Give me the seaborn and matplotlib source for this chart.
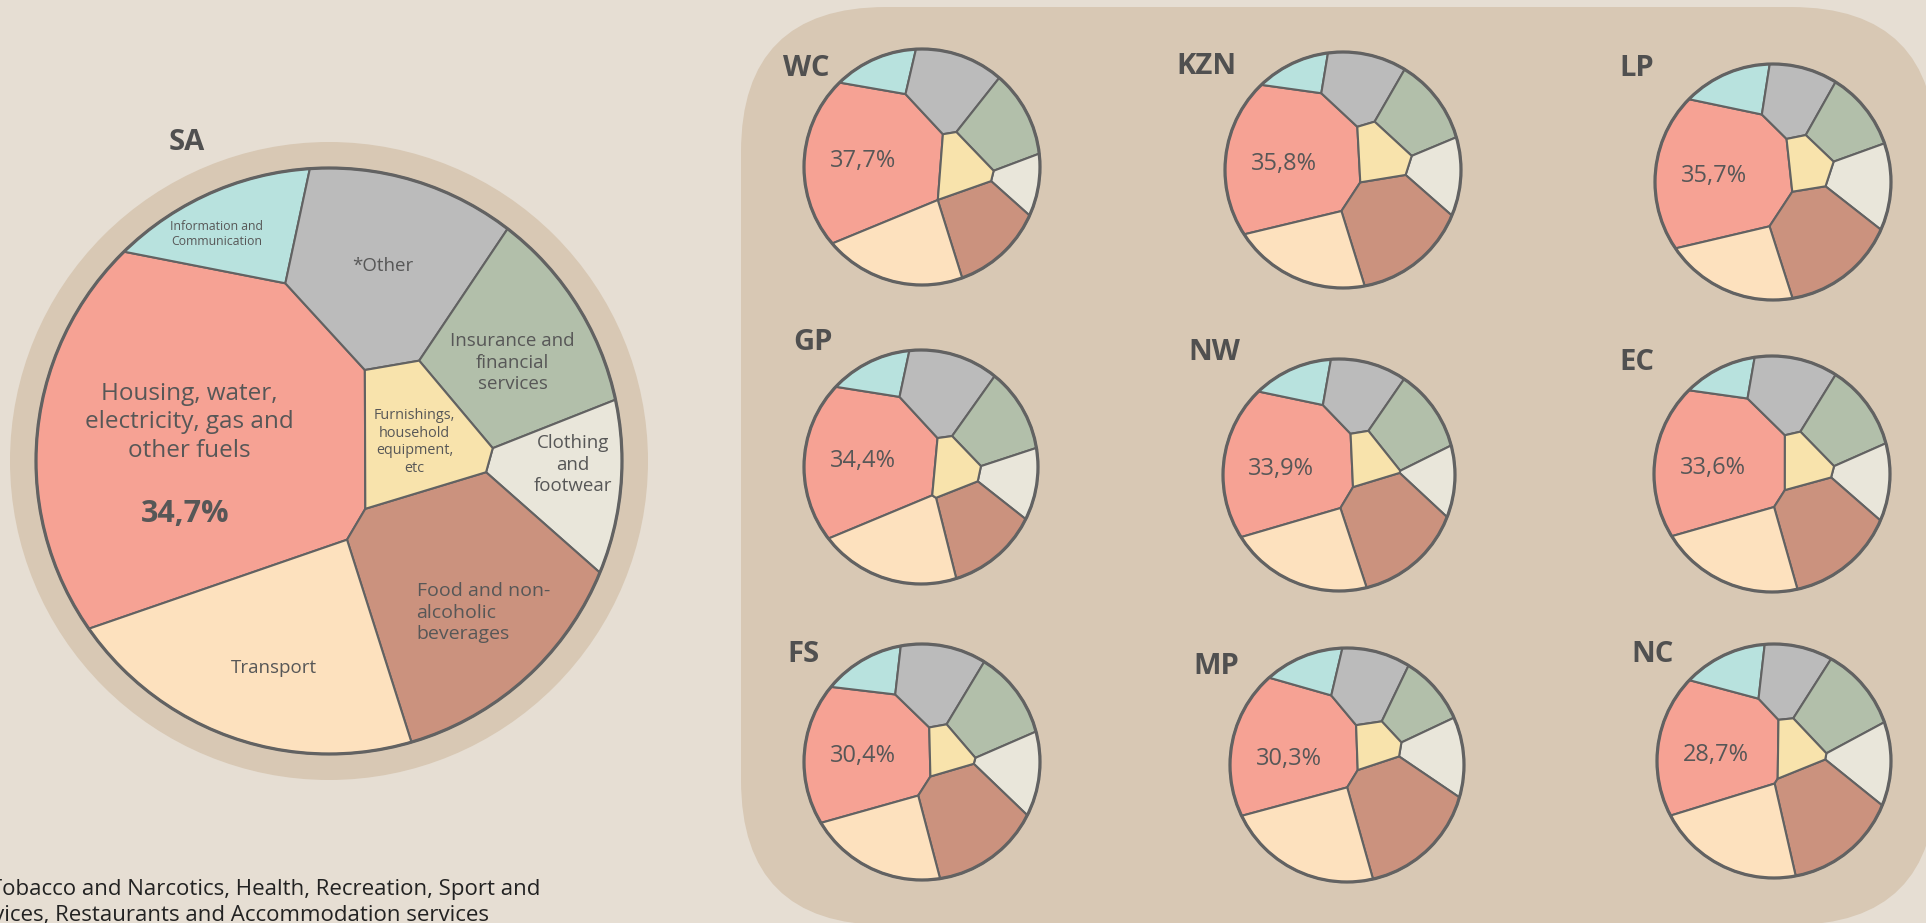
import numpy as np
import pandas as pd
import matplotlib
matplotlib.use('Agg')
import matplotlib.pyplot as plt
from matplotlib.patches import Circle, FancyBboxPatch
import seaborn as sns

sns.set_theme(style='white')
plt.rcParams['font.family'] = ['Open Sans', 'DejaVu Sans']

# regions, SA first
regions = ['SA', 'WC', 'KZN', 'LP', 'GP', 'NW', 'EC', 'FS', 'MP', 'NC']

# share of household spend per category (%); housing, the rest
housing     = [34.7, 37.7, 35.8, 35.7, 34.4, 33.9, 33.6, 30.4, 30.3, 28.7]
info_comm   = [4.5, 4.5, 3.5, 5.5, 4.5, 4.5, 3.5, 4.5, 4.5, 5.5]
other       = [11.0, 11.5, 9.5, 8.5, 12.5, 9.5, 10.5, 11.5, 9.5, 8.5]
insurance   = [9.0, 10.0, 9.0, 8.0, 10.0, 10.0, 10.0, 11.0, 7.0, 11.0]
clothing    = [5.0, 4.0, 6.0, 8.0, 6.0, 5.0, 6.0, 7.0, 7.0, 7.0]
food        = [15.5, 12.0, 18.0, 18.0, 12.0, 18.0, 17.0, 18.0, 20.0, 18.0]
transport   = [15.5, 15.0, 13.0, 12.0, 16.0, 15.0, 15.0, 14.0, 18.0, 17.0]
furnishings = [4.8, 5.3, 5.2, 4.3, 4.6, 4.1, 4.4, 3.6, 3.7, 4.3]

categories = ['Housing', 'Info', 'Other', 'Insurance', 'Clothing', 'Food', 'Transport', 'Furnishings']
df = pd.DataFrame({'Housing': housing, 'Info': info_comm, 'Other': other, 'Insurance': insurance,
                   'Clothing': clothing, 'Food': food, 'Transport': transport,
                   'Furnishings': furnishings}, index=regions)

colors = dict(zip(categories, sns.color_palette(
    ['#f6a294', '#b8e2de', '#bbbbbb', '#b2bfaa', '#e9e6da', '#cb927e', '#fde1be', '#f8e3ac'])))

bg = '#e6ded3'
panel = '#d8c8b4'
edge = '#626262'
txt = '#575757'

# starting sites of the voronoi cells in a unit circle (y up)
start_sites = {'Housing': (-0.45, 0.05), 'Info': (-0.25, 0.8), 'Other': (0.2, 0.65),
               'Insurance': (0.62, 0.38), 'Clothing': (0.85, -0.05), 'Food': (0.45, -0.5),
               'Transport': (-0.2, -0.75), 'Furnishings': (0.2, 0.0)}

# layout: centre x, centre y, radius, title x, title y (pixels)
layout = {'SA': (329, 461, 293, 187, 142),
          'WC': (922, 167, 118, 783, 68), 'KZN': (1343, 170, 118, 1176, 66), 'LP': (1773, 182, 118, 1619, 68),
          'GP': (921, 467, 117, 793, 343), 'NW': (1339, 475, 116, 1188, 352), 'EC': (1772, 474, 118, 1619, 362),
          'FS': (922, 762, 118, 787, 655), 'MP': (1347, 765, 117, 1193, 666), 'NC': (1774, 761, 117, 1631, 655)}


def circle_poly(n):
    t = np.linspace(0, 2 * np.pi, n, endpoint=False)
    return np.column_stack([np.cos(t), np.sin(t)])


def clip(poly, a, b):
    if len(poly) == 0:
        return poly
    d = poly @ a - b
    inside = d <= 0
    if inside.all():
        return poly
    if not inside.any():
        return poly[:0]
    nxt = np.roll(poly, -1, axis=0)
    dn = np.roll(d, -1)
    cross = inside != (dn <= 0)
    t = d / np.where(cross, d - dn, 1.0)
    inter = poly + t[:, None] * (nxt - poly)
    pts = np.stack([poly, inter], axis=1)
    mask = np.stack([inside, cross], axis=1)
    return pts[mask]


def power_cells(sites, w, circ):
    cells = []
    for i in range(len(sites)):
        poly = circ
        si = sites[i]
        order = np.argsort(((sites - si) ** 2).sum(1))
        for j in order[1:]:
            sj = sites[j]
            poly = clip(poly, 2 * (sj - si), sj @ sj - si @ si - w[j] + w[i])
        cells.append(poly)
    return cells


def area_centroid(poly):
    if len(poly) < 3:
        return 0.0, None
    x, y = poly[:, 0], poly[:, 1]
    x1, y1 = np.roll(x, -1), np.roll(y, -1)
    cr = x * y1 - x1 * y
    A = cr.sum() / 2
    if A <= 1e-9:
        return 0.0, None
    return A, np.array([((x + x1) * cr).sum() / (6 * A), ((y + y1) * cr).sum() / (6 * A)])


def voronoi_pie(shares):
    target = np.array(shares) / np.sum(shares) * np.pi
    sites = np.array([start_sites[c] for c in categories], dtype=float)
    w = np.zeros(len(sites))
    circ = circle_poly(72)
    for it in range(350):
        cells = power_cells(sites, w, circ)
        res = [area_centroid(c) for c in cells]
        areas = np.array([r[0] for r in res])
        if it < 220:
            for i, (A, c) in enumerate(res):
                if c is not None:
                    sites[i] += 0.4 * (c - sites[i])
        w += 0.35 * (target - areas)
    return power_cells(sites, w, circle_poly(240))


fig = plt.figure(figsize=(19.26, 9.23), dpi=100)
fig.patch.set_facecolor(bg)
ax = fig.add_axes([0, 0, 1, 1])
ax.set_facecolor(bg)
ax.set_xlim(0, 1926)
ax.set_ylim(923, 0)
ax.axis('off')

ax.add_patch(FancyBboxPatch((741, 7), 1195, 918, boxstyle='round,pad=0,rounding_size=145',
                            fc=panel, ec='none', zorder=0))

for reg in regions:
    cx, cy, r, tx, ty = layout[reg]
    if reg == 'SA':
        ax.add_patch(Circle((cx, cy), r + 26, fc=panel, ec='none', zorder=0))
    cells = voronoi_pie(df.loc[reg, categories].values)
    for cat, poly in zip(categories, cells):
        if len(poly) < 3:
            continue
        ax.fill(cx + r * poly[:, 0], cy - r * poly[:, 1], facecolor=colors[cat], edgecolor=edge,
                linewidth=1.5, joinstyle='round', zorder=2)
    ax.add_patch(Circle((cx, cy), r, fill=False, ec=edge, lw=2.3, zorder=3))
    pct = f"{df.loc[reg, 'Housing']:.1f}%".replace('.', ',')
    if reg == 'SA':
        ax.text(tx, ty, reg, fontsize=21, fontweight='bold', color='#505050', ha='center', va='center')
    else:
        ax.text(tx, ty, reg, fontsize=21, fontweight='bold', color='#505050', ha='left', va='center')
        ax.text(cx - 0.5 * r, cy - 0.05 * r, pct, fontsize=17, color=txt, ha='center', va='center', zorder=4)

# SA labels (offsets relative to the SA circle)
cx, cy, r = layout['SA'][:3]
sa_labels = [
    ('Housing, water,\nelectricity, gas and\nother fuels', -0.476, -0.132, 17.5, 'center', 'normal'),
    (f"{df.loc['SA', 'Housing']:.1f}%".replace('.', ','), -0.49, 0.18, 22, 'center', 'bold'),
    ('Information and\nCommunication', -0.383, -0.774, 8.8, 'center', 'normal'),
    ('*Other', 0.184, -0.666, 13.5, 'center', 'normal'),
    ('Insurance and\nfinancial\nservices', 0.627, -0.335, 13.5, 'center', 'normal'),
    ('Furnishings,\nhousehold\nequipment,\netc', 0.292, -0.065, 10.4, 'center', 'normal'),
    ('Clothing\nand\nfootwear', 0.833, 0.012, 13.5, 'center', 'normal'),
    ('Food and non-\nalcoholic\nbeverages', 0.299, 0.518, 14, 'left', 'normal'),
    ('Transport', -0.189, 0.706, 13.5, 'center', 'normal'),
]
for s, dx, dy, fs, ha, fw in sa_labels:
    ax.text(cx + dx * r, cy + dy * r, s, fontsize=fs, ha=ha, va='center', color=txt,
            fontweight=fw, linespacing=1.25, multialignment=ha, zorder=4)

# footnote, runs off the left edge as in the original
ax.text(540, 889, '*Other: Alcoholic beverages, Tobacco and Narcotics, Health, Recreation, Sport and',
        fontsize=16, color='#222222', ha='right', va='center')
ax.text(489, 915, 'Culture, Education services, Restaurants and Accommodation services',
        fontsize=16, color='#222222', ha='right', va='center')

fig.savefig('out.png', dpi=100, facecolor=bg)
